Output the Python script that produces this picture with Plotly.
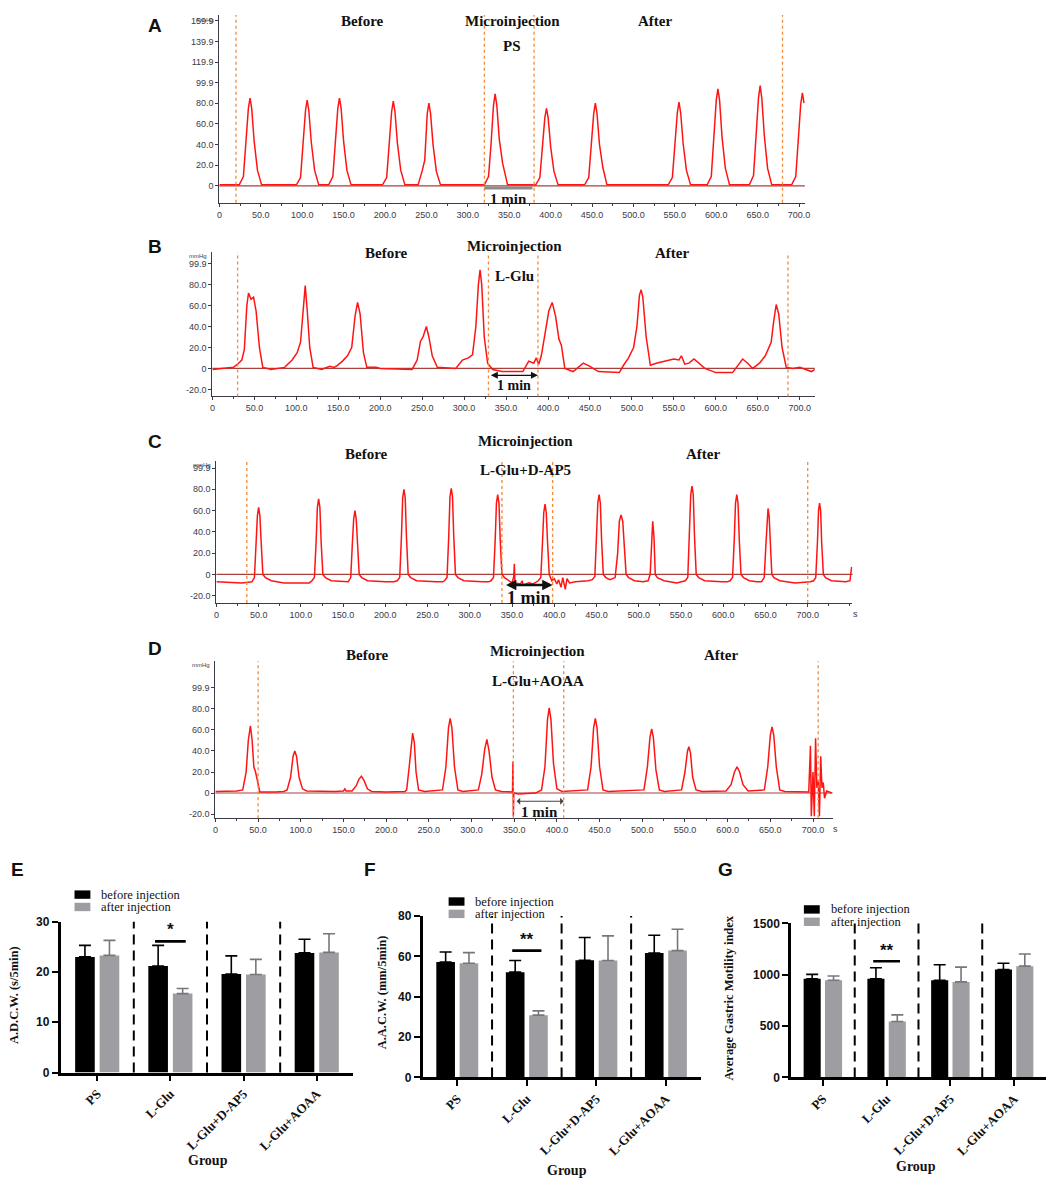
import plotly.graph_objects as go

# the page puts the figure 8 px in from the top-left corner, so all pixel
# positions below are given in page pixels and shifted back by OFF
PAGE_W, PAGE_H = 1059, 1187
OFF = 8
W, H = PAGE_W - 2 * OFF, PAGE_H - 2 * OFF
SERIF = 'Liberation Serif'
SANS = 'Liberation Sans'


def fx(x):
    return (x - OFF) / W


def fy(y):
    return 1 - (y - OFF) / H


def xdom(a, b):
    return [max(fx(a), 0), min(fx(b), 1)]


def ydom(top, bottom):
    return [max(fy(bottom), 0), min(fy(top), 1)]


# ---------------- gastric pressure recordings (s, mmHg) ----------------
A_T = [0, 24, 29, 32, 35, 37, 39, 42, 46, 51,
       93, 98, 101, 104, 106, 108, 111, 115, 120,
       132, 137, 140, 143, 145, 147, 150, 154, 159,
       197, 202, 205, 208, 210, 212, 215, 219, 224,
       240, 245, 248, 251, 253, 255, 258, 262, 267,
       320, 325, 328, 331, 333, 335, 338, 342, 348,
       382, 387, 390, 393, 395, 397, 400, 404, 409,
       441, 446, 449, 452, 454, 456, 459, 463, 468,
       542, 547, 550, 553, 555, 557, 560, 564, 569,
       589, 594, 597, 600, 602, 604, 607, 611, 616,
       640, 645, 648, 651, 653, 655, 658, 662, 667,
       691, 696, 699, 702, 704, 706]
A_V = [1, 1, 9, 38, 75, 85, 75, 43, 15, 1,
       1, 8, 37, 73, 83, 73, 42, 15, 1,
       1, 9, 38, 75, 85, 75, 43, 15, 1,
       1, 8, 37, 72, 82, 72, 41, 15, 1,
       1, 15, 25, 70, 80, 70, 40, 14, 1,
       1, 9, 40, 78, 89, 78, 45, 22, 1,
       1, 8, 34, 66, 75, 66, 38, 14, 1,
       1, 8, 36, 70, 80, 70, 40, 18, 1,
       1, 8, 36, 71, 81, 71, 41, 15, 1,
       1, 9, 42, 83, 94, 83, 47, 17, 1,
       1, 10, 44, 85, 97, 85, 49, 17, 1,
       1, 9, 40, 79, 90, 80]

B_T = [0, 25, 30, 35, 38, 41, 43, 46, 49, 52, 56, 60, 70, 86,
       95, 101, 105, 108, 110.6, 113, 116, 120, 130, 140, 145,
       149, 155, 161, 166, 170, 173, 176, 180, 184, 195, 200, 238,
       244, 248, 251, 255, 258, 262, 268, 290, 298, 305, 310,
       314, 317, 319, 321, 324, 328, 334, 345, 370,
       377, 383, 386, 389, 392, 397, 401, 405, 409, 413, 416, 420,
       430, 442, 450, 460, 485, 490, 496, 502, 506, 509, 511, 513, 517, 522,
       529, 540, 550, 556, 559, 563, 568, 574, 580, 587, 600, 620,
       632, 638, 644, 652, 659, 666, 669, 672, 675, 679, 684,
       692, 700, 714, 718]
B_V = [-1, 1, 4, 8, 18, 60, 72, 66, 68, 55, 20, 1, -1, 1,
       8, 15, 25, 55, 79, 55, 20, 1, -1, 2, 1,
       3, 7, 12, 20, 50, 63, 52, 15, 1, 1, 0, -1,
       8, 26, 30, 40, 30, 12, 1, 0, 8, 10, 13,
       40, 80, 94, 80, 30, 5, -1, -3, -3,
       7, 5, 10, 4, 12, 35, 55, 63, 50, 28, 22, 0,
       -3, 5, 2, -3, -4, 3, 10, 20, 40, 70, 75, 68, 30, 3,
       5, 7, 9, 8, 12, 4, 5, 9, 5, 0, -4, -4,
       9, 5, 0, 5, 12, 25, 45, 61, 52, 20, 1,
       0, 1, -3, -1]

C_T = [0, 30,
       42, 45, 47, 48.5, 50, 51.5, 53, 55, 58, 65, 80, 110,
       113, 116, 118, 119.5, 121, 122.5, 124, 126, 129, 136,
       156, 159, 161, 162.5, 164, 165.5, 167, 169, 172, 179, 200, 210,
       214, 217, 219, 220.5, 222, 223.5, 225, 227, 230, 237, 260, 268,
       270, 273, 275, 276.5, 278, 279.5, 281, 283, 286, 293, 315, 322,
       325, 328, 330, 331.5, 333, 334.5, 336, 338, 341, 346,
       350, 352, 352.7, 353.4, 360, 362, 363, 370, 375,
       381, 384, 386, 387.5, 389, 390.5, 392, 394, 397,
       400, 403, 405, 408, 410, 413, 415, 418, 425, 440,
       445, 448, 450, 451.5, 453, 454.5, 456, 458, 461,
       466, 472, 475, 477, 479, 481, 483, 485, 488, 495, 505,
       511, 513.5, 515, 516.5, 518, 519.5, 522, 530, 545, 550,
       555, 558, 560, 561.5, 563, 564.5, 566, 568, 571, 578, 598, 605,
       608, 611, 613, 614.5, 616, 617.5, 619, 621, 624, 631, 640, 645,
       646, 648.5, 650.5, 651.8, 653, 654.3, 655.5, 657.5, 660, 667, 685, 703,
       707, 709.5, 711.5, 712.8, 714, 715.3, 716.5, 718.5, 721, 728, 745, 750, 752]
C_V = [-7, -8,
       -7, -3, 30, 55, 63, 55, 30, 0, -3, -6, -8, -8,
       -6, -3, 30, 63, 71, 63, 30, 0, -3, -6,
       -7, -3, 30, 52, 60, 52, 30, 0, -3, -6, -7, -7,
       -6, -3, 35, 72, 80, 72, 35, 0, -3, -6, -7, -7,
       -6, -3, 35, 73, 81, 73, 35, 0, -3, -6, -7, -7,
       -6, -3, 32, 67, 75, 67, 32, 0, -3, -6,
       -8, -2, 10, -8, -9, -6, -10, -8, -9,
       -6, -3, 30, 58, 66, 58, 30, 0, -6,
       -4, -9, -5, -12, -3, -14, -4, -8, -7, -6,
       -5, -2, 32, 67, 75, 67, 32, 0, -3,
       -5, -3, 20, 50, 56, 50, 25, 0, -3, -6, -7,
       -6, 0, 35, 50, 35, 0, -3, -6, -8, -7,
       -6, -3, 35, 75, 83, 75, 35, 0, -3, -6, -7, -7,
       -6, -3, 32, 67, 75, 67, 32, 0, -3, -6, -7, -7,
       -6, -3, 28, 55, 62, 55, 28, 0, -3, -6, -8, -7,
       -6, -3, 30, 60, 67, 60, 30, 0, -3, -6, -7, -6, 7]

D_T = [0, 25, 32, 36, 38.5, 41, 43, 45, 47, 50, 52, 70, 80,
       84, 88, 91, 93, 95, 98, 102, 107, 140, 150, 151.6, 153,
       160, 165, 168, 171, 174, 178, 183, 200, 222,
       224, 227, 229.5, 231, 233, 235, 238, 245,
       266, 270, 273, 275, 277, 280, 284, 290,
       308, 312, 315.5, 318, 320.5, 324, 328, 335,
       348, 348.5, 349, 349.5, 355, 375,
       382, 386, 389, 391, 393, 396, 400, 406,
       436, 440, 443, 445, 447, 450, 454, 460,
       502, 506, 509, 511, 513, 516, 520, 526,
       546, 550, 553, 554.6, 556.5, 559, 563, 570,
       598, 604, 608, 611, 614, 618, 624,
       643, 647, 650, 652, 654, 657, 661, 667,
       695, 697, 698, 700, 701.5, 703, 704.5, 706, 707.5, 709, 710.5, 712, 713.5, 716, 722]
D_V = [1.5, 2, 3, 20, 50, 64, 50, 25, 20, 8, 1, 1, 1.5,
       3, 15, 35, 40, 35, 15, 4, 2, 1.5, 2, 4, 2,
       2, 7, 13, 16, 12, 4, 1.5, 1, 1.5,
       3, 25, 50, 57, 48, 20, 3, 1.5,
       3, 25, 62, 71, 62, 25, 3, 1.5,
       3, 18, 42, 51, 40, 15, 3, 1.5,
       1, 30, -22, 0, -1, 0,
       3, 25, 70, 81, 70, 28, 4, 1.5,
       3, 25, 62, 71, 62, 25, 3, 1.5,
       3, 25, 53, 61, 53, 22, 3, 1.5,
       3, 20, 40, 44, 38, 15, 3, 1.5,
       2, 8, 20, 25, 20, 8, 2,
       3, 25, 55, 63, 55, 25, 3, 1.5,
       1, 45, -22, 20, -22, 52, 5, 12, -22, 35, 5, 10, -5, 2, 0]

# window markers (s) and the 1-min scale bar (s, mmHg)
A_WIN = [20, 320, 380, 680]
B_WIN = [30, 329, 388, 686]
C_WIN = [36, 338, 398, 700]
D_WIN = [50, 349, 408, 706]
A_SCALE = [320, 378, -2]
B_SCALE = [330, 388, -6.6]
C_SCALE = [341, 398, -10]
D_SCALE = [351, 408, -7.8]

TIME_TICKS = [0, 50, 100, 150, 200, 250, 300, 350, 400, 450, 500, 550, 600, 650, 700]
TIME_TEXT = ['0', '50.0', '100.0', '150.0', '200.0', '250.0', '300.0', '350.0',
             '400.0', '450.0', '500.0', '550.0', '600.0', '650.0', '700.0']
A_YTICKS = [0, 20, 40, 60, 80, 99.9, 119.9, 139.9, 159.9]
A_YTEXT = ['0', '20.0', '40.0', '60.0', '80.0', '99.9', '119.9', '139.9', '159.9']
BCD_YTICKS = [-20, 0, 20, 40, 60, 80, 99.9]
BCD_YTEXT = ['-20.0', '0', '20.0', '40.0', '60.0', '80.0', '99.9']

# ---------------- summary statistics ----------------
GROUPS = ['PS', 'L-Glu', 'L-Glu+D-AP5', 'L-Glu+AOAA']
ADCW_BEFORE = [23.0, 21.2, 19.6, 23.8]
ADCW_BEFORE_SD = [2.3, 4.1, 3.6, 2.7]
ADCW_AFTER = [23.3, 15.7, 19.5, 23.9]
ADCW_AFTER_SD = [3.0, 1.0, 3.0, 3.7]
AACW_BEFORE = [57.2, 52.2, 58.1, 61.7]
AACW_BEFORE_SD = [5.0, 5.8, 11.3, 8.8]
AACW_AFTER = [56.6, 30.9, 58.0, 62.9]
AACW_AFTER_SD = [5.3, 2.1, 12.2, 10.6]
GMI_BEFORE = [961, 961, 946, 1051]
GMI_BEFORE_SD = [42, 106, 150, 61]
GMI_AFTER = [946, 545, 930, 1083]
GMI_AFTER_SD = [41, 64, 144, 119]
NO_LOWER = [0, 0, 0, 0]

fig = go.Figure()
shapes = []
annos = []


def label(x, y, text, font, **kw):
    # paper-positioned text, centred on page pixel (x, y)
    d = dict(x=fx(x), y=fy(y), xref='paper', yref='paper', text=text, showarrow=False,
             xanchor='center', yanchor='middle', font=font)
    d.update(kw)
    annos.append(d)


panels = [
    dict(letter='A', t=A_T, v=A_V, win=A_WIN, sc=A_SCALE, drug='PS',
         dx=(218, 808), dy=(8, 198), xr=[0, 707], yr=[-16.3, 165.4],
         yt=A_YTICKS, ytt=A_YTEXT, pos=dict(letter=(153, 19), before=(362, 14), micro=(513, 14),
                                            drug=(513, 39), after=(657, 14)), mfont=15, unit=False),
    dict(letter='B', t=B_T, v=B_V, win=B_WIN, sc=B_SCALE, drug='L-Glu',
         dx=(211, 818), dy=(248, 394), xr=[0, 718], yr=[-26.7, 111],
         yt=BCD_YTICKS, ytt=BCD_YTEXT, pos=dict(letter=(153, 242), before=(386, 249), micro=(515, 242),
                                                drug=(515, 272), after=(674, 249)), mfont=14, unit=False),
    dict(letter='C', t=C_T, v=C_V, win=C_WIN, sc=C_SCALE, drug='L-Glu+D-AP5',
         dx=(215, 856), dy=(459, 603), xr=[0, 753], yr=[-26.8, 107],
         yt=BCD_YTICKS, ytt=BCD_YTEXT, pos=dict(letter=(153, 440), before=(366, 452), micro=(526, 439),
                                                drug=(526, 469), after=(705, 452)), mfont=18, unit=True),
    dict(letter='D', t=D_T, v=D_V, win=D_WIN, sc=D_SCALE, drug='L-Glu+AOAA',
         dx=(214, 836), dy=(662, 821), xr=[0, 723], yr=[-24, 125.4],
         yt=BCD_YTICKS, ytt=BCD_YTEXT, pos=dict(letter=(153, 649), before=(367, 656), micro=(539, 652),
                                                drug=(539, 682), after=(723, 656)), mfont=15, unit=True),
]

AX_COL = '#3a3a48'
for i, p in enumerate(panels, start=1):
    sfx = '' if i == 1 else str(i)
    xa, ya = 'x' + sfx, 'y' + sfx
    fig.add_trace(go.Scatter(x=p['t'], y=p['v'], mode='lines',
                             line=dict(color='#ff1414', width=1.5),
                             xaxis=xa, yaxis=ya, showlegend=False, hoverinfo='skip'))
    tick_font = dict(family=SANS, size=9, color=AX_COL)
    fig.update_layout(**{
        'xaxis' + sfx: dict(domain=xdom(*p['dx']), range=p['xr'], anchor=ya,
                            tickmode='array', tickvals=TIME_TICKS, ticktext=TIME_TEXT,
                            showline=True, linecolor=AX_COL, linewidth=1.2, ticks='outside',
                            ticklen=3, tickcolor=AX_COL, tickfont=tick_font, showgrid=False,
                            zeroline=False,
                            minor=dict(tickmode='linear', tick0=0, dtick=25, ticks='outside',
                                       ticklen=2, tickcolor=AX_COL)),
        'yaxis' + sfx: dict(domain=ydom(*p['dy']), range=p['yr'], anchor=xa,
                            tickmode='array', tickvals=p['yt'], ticktext=p['ytt'],
                            showline=True, linecolor=AX_COL, linewidth=1.2, ticks='outside',
                            ticklen=3, tickcolor=AX_COL, tickfont=tick_font, showgrid=False,
                            zeroline=False),
    })
    # zero reference line
    shapes.append(dict(type='line', xref=xa + ' domain', yref=ya, x0=0, x1=1, y0=0, y1=0,
                       line=dict(color='#a8403c', width=1.1), layer='below'))
    # window markers
    for t in p['win']:
        shapes.append(dict(type='line', xref=xa, yref=ya + ' domain', x0=t, x1=t, y0=0, y1=1,
                           line=dict(color='#f08a3c', width=1.3, dash='dot')))
    # 1 min scale
    s0, s1, sy = p['sc']
    if i == 1:
        shapes.append(dict(type='line', xref=xa, yref=ya, x0=s0, x1=s1, y0=sy, y1=sy,
                           line=dict(color='#8c8c8c', width=3)))
    else:
        annos.append(dict(x=s1, y=sy, ax=s0, ay=sy, xref=xa, yref=ya, axref=xa, ayref=ya,
                          text='', showarrow=True, arrowside='end+start',
                          arrowhead=2 if i != 4 else 1, arrowsize=1 if i != 3 else 0.8,
                          arrowwidth={2: 1.4, 3: 2.6, 4: 1.2}[i],
                          arrowcolor='#111111' if i != 4 else '#444444'))
    annos.append(dict(x=(s0 + s1) / 2, y=sy, xref=xa, yref=ya, xanchor='center', yanchor='top',
                      yshift=-1, text='1 min', showarrow=False,
                      font=dict(family=SERIF, size=p['mfont'], color='#111', weight='bold')))
    # headings
    ps = p['pos']
    label(*ps['letter'], p['letter'], dict(family=SANS, size=19, color='#111', weight='bold'))
    for key, txt in (('before', 'Before'), ('micro', 'Microinjection'),
                     ('drug', p['drug']), ('after', 'After')):
        label(*ps[key], txt, dict(family=SERIF, size=15, color='#111', weight='bold'))
    label(p['dx'][0] - 3, max(p['dy'][0] - 1, OFF), 'mmHg', dict(family=SANS, size=6, color=AX_COL),
          xanchor='right', yanchor='top')
    if p['unit']:
        label(p['dx'][1] - 2, p['dy'][1] + 4, 's', dict(family=SANS, size=9, color=AX_COL),
              xanchor='left', yanchor='top')

# ---------------- bar charts ----------------
BLACK, GRAY = '#000000', '#9e9ea2'
bars = [
    dict(letter='E', before=ADCW_BEFORE, bsd=ADCW_BEFORE_SD, after=ADCW_AFTER, asd=ADCW_AFTER_SD,
         dx=(58, 353), dy=(925.7, 1078.3), yr=[0, 30], yt=[0, 10, 20, 30],
         title='A.D.C.W. (s/5min)', tpos=(11, 1000), gpos=(207, 1167), lpos=(15, 873),
         leg=(72, 894), sig=(26.1, 27.4, '*')),
    dict(letter='F', before=AACW_BEFORE, bsd=AACW_BEFORE_SD, after=AACW_AFTER, asd=AACW_AFTER_SD,
         dx=(422.7, 703), dy=(920, 1083.3), yr=[0, 80], yt=[0, 20, 40, 60, 80],
         title='A.A.C.W. (mm/5min)', tpos=(382, 997), gpos=(568, 1177), lpos=(370, 873),
         leg=(449, 901), sig=(62.9, 65.5, '**')),
    dict(letter='G', before=GMI_BEFORE, bsd=GMI_BEFORE_SD, after=GMI_AFTER, asd=GMI_AFTER_SD,
         dx=(794, 1053), dy=(927.3, 1083.3), yr=[0, 1500], yt=[0, 500, 1000, 1500],
         title='Average Gastric Motility index', tpos=(732, 1003), gpos=(920, 1173),
         lpos=(728, 873), leg=(807, 909), sig=(1131, 1185, '**')),
]

for j, b in enumerate(bars, start=5):
    xa, ya = 'x%d' % j, 'y%d' % j
    for vals, sd, col, ecol in ((b['before'], b['bsd'], BLACK, '#000000'),
                                (b['after'], b['asd'], GRAY, '#77777b')):
        fig.add_trace(go.Bar(x=GROUPS, y=vals, marker=dict(color=col, line=dict(width=0)),
                             error_y=dict(type='data', symmetric=False, array=sd,
                                          arrayminus=NO_LOWER, color=ecol, thickness=1.6, width=6),
                             xaxis=xa, yaxis=ya, showlegend=False, hoverinfo='skip'))
    fig.update_layout(**{
        'xaxis%d' % j: dict(domain=xdom(*b['dx']), anchor=ya, range=[-0.5, 3.5],
                            showline=True, linecolor='#000', linewidth=2.5, ticks='outside',
                            ticklen=6, tickwidth=2, tickcolor='#000', tickangle=-45,
                            tickfont=dict(family=SERIF, size=13, color='#111', weight='bold'),
                            showgrid=False, zeroline=False),
        'yaxis%d' % j: dict(domain=ydom(*b['dy']), anchor=xa, range=b['yr'],
                            tickmode='array', tickvals=b['yt'],
                            showline=True, linecolor='#000', linewidth=2.5, ticks='outside',
                            ticklen=6, tickwidth=2, tickcolor='#000',
                            tickfont=dict(family=SANS, size=12, color='#111', weight='bold'),
                            showgrid=False, zeroline=False),
    })
    for sep in (0.5, 1.5, 2.5):
        shapes.append(dict(type='line', xref=xa, yref=ya + ' domain', x0=sep, x1=sep, y0=0, y1=1,
                           line=dict(color='#000', width=2, dash='10px,6px')))
    sig_y, star_y, star = b['sig']
    shapes.append(dict(type='line', xref=xa, yref=ya, x0=0.79, x1=1.21, y0=sig_y, y1=sig_y,
                       line=dict(color='#000', width=2.6)))
    annos.append(dict(x=1, y=star_y, xref=xa, yref=ya, text=star, showarrow=False,
                      xanchor='center', yanchor='bottom', yshift=-6,
                      font=dict(family=SANS, size=17, color='#111', weight='bold')))
    label(*b['tpos'], b['title'], dict(family=SERIF, size=12.5, color='#111', weight='bold'),
          textangle=-90)
    label(*b['gpos'], 'Group', dict(family=SERIF, size=14, color='#111', weight='bold'))
    label(*b['lpos'], b['letter'], dict(family=SANS, size=19, color='#111', weight='bold'))
    # legend
    lx, ly = b['leg']
    for k, (col, txt) in enumerate(((BLACK, 'before injection'), (GRAY, 'after injection'))):
        top = ly + k * 12.5
        shapes.append(dict(type='rect', xref='paper', yref='paper', x0=fx(lx), x1=fx(lx + 16),
                           y0=fy(top + 8.5), y1=fy(top), fillcolor=col, line=dict(width=0)))
        label(lx + 25, top + 4.3, txt, dict(family=SERIF, size=12.5, color='#111'),
              xanchor='left')

fig.update_layout(width=W, height=H, margin=dict(l=0, r=0, t=0, b=0),
                  paper_bgcolor='white', plot_bgcolor='white',
                  barmode='group', bargap=0.33, bargroupgap=0.2,
                  shapes=shapes, annotations=annos)

fig.write_html('out.html')
